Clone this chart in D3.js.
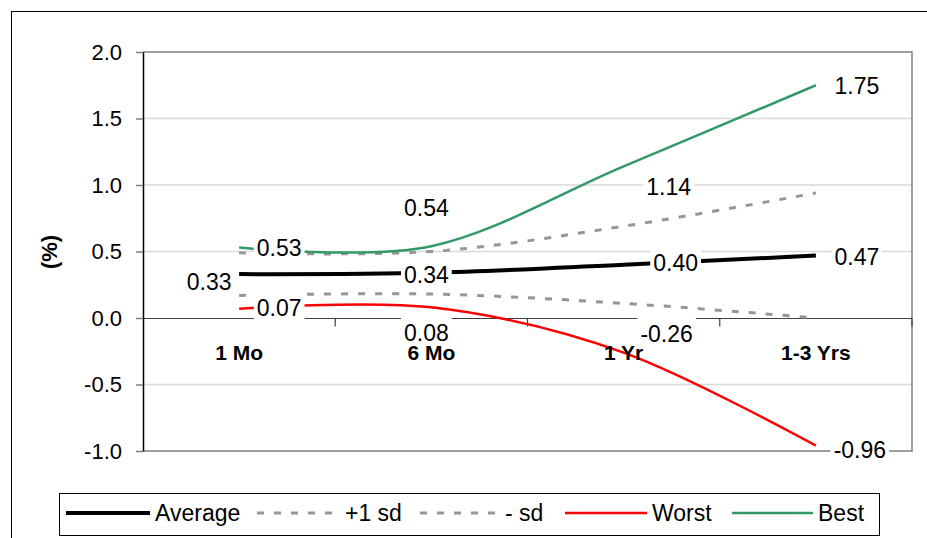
<!DOCTYPE html>
<html>
<head>
<meta charset="utf-8">
<script src="https://cdn.jsdelivr.net/npm/d3@7"></script>
<style>
  body { margin: 0; background: #fff; }
  svg { display: block; font-family: "Liberation Sans", Arial, sans-serif; }
</style>
</head>
<body>
<div id="app"></div>
<script>
// data
var categories = ["1 Mo", "6 Mo", "1 Yr", "1-3 Yrs"];
var average = [0.33, 0.34, 0.40, 0.47];
var plusSd = [0.49, 0.50, 0.69, 0.94];
var minusSd = [0.17, 0.18, 0.11, 0.00];
var worst = [0.07, 0.08, -0.26, -0.96];
var best = [0.53, 0.54, 1.14, 1.75];
var yTicks = [-1.0, -0.5, 0.0, 0.5, 1.0, 1.5, 2.0];
var seriesNames = ["Average", "+1 sd", "- sd", "Worst", "Best"];

var width = 927, height = 538;
var plot = {left: 143, right: 912, top: 52, bottom: 451};

var svg = d3.select("#app").append("svg")
  .attr("width", width)
  .attr("height", height);

// outer chart border
svg.append("rect")
  .attr("x", 11.5).attr("y", 11.5)
  .attr("width", 940).attr("height", 600)
  .attr("fill", "white").attr("stroke", "black");

var x = d3.scaleBand()
  .domain(categories)
  .range([plot.left, plot.right]);
var cx = function(c) { return x(c) + x.bandwidth() / 2; };

var y = d3.scaleLinear()
  .domain([-1, 2])
  .range([plot.bottom, plot.top]);

// gridlines
svg.append("g").selectAll("line")
  .data(yTicks.filter(function(d) { return d != 0 && d != -1 && d != 2; }))
  .join("line")
    .attr("x1", plot.left).attr("x2", plot.right)
    .attr("y1", function(d) { return y(d); })
    .attr("y2", function(d) { return y(d); })
    .attr("stroke", "#d9d9d9").attr("stroke-width", 1.5);

// plot border (top, right, bottom)
svg.append("path")
  .attr("d", "M" + plot.left + "," + y(2) + "H" + plot.right + "V" + y(-1) + "H" + plot.left)
  .attr("fill", "none").attr("stroke", "#808080").attr("stroke-width", 1.5);

// category axis at zero
var zeroY = Math.round(y(0)) + 0.5;
svg.append("line")
  .attr("x1", plot.left).attr("x2", plot.right)
  .attr("y1", zeroY).attr("y2", zeroY)
  .attr("stroke", "#404040").attr("stroke-width", 1.2);
var bounds = d3.range(categories.length + 1).map(function(i) { return plot.left + i * x.step(); });
svg.append("g").selectAll("line")
  .data(bounds.slice(1))
  .join("line")
    .attr("x1", function(d) { return d; }).attr("x2", function(d) { return d; })
    .attr("y1", zeroY).attr("y2", zeroY + 8)
    .attr("stroke", "#404040").attr("stroke-width", 1.2);

// value axis
var yAxis = svg.append("g")
  .attr("transform", "translate(" + plot.left + ",0)")
  .call(d3.axisLeft(y).tickValues(yTicks).tickSize(7).tickSizeOuter(0).tickPadding(14)
    .tickFormat(function(d) { return d.toFixed(1); }));
yAxis.select(".domain").attr("stroke", "black").attr("stroke-width", 1.5);
yAxis.selectAll(".tick line").attr("stroke", "#808080").attr("stroke-width", 1.5);
yAxis.selectAll(".tick text").attr("font-size", 22).attr("fill", "black")
  .attr("font-family", "Liberation Sans, Arial, sans-serif");

svg.append("text")
  .attr("transform", "translate(57,252) rotate(-90)")
  .attr("text-anchor", "middle")
  .attr("font-weight", "bold")
  .attr("font-size", 22)
  .text("(%)");

// series
var styles = {
  "Average": {color: "black", width: 4, dash: null},
  "+1 sd": {color: "#969696", width: 3, dash: "7,10"},
  "- sd": {color: "#969696", width: 3, dash: "7,10"},
  "Worst": {color: "#ff0000", width: 2.5, dash: null},
  "Best": {color: "#339966", width: 2.5, dash: null}
};
var seriesValues = [average, plusSd, minusSd, worst, best];

var line = d3.line()
  .x(function(d, i) { return cx(categories[i]); })
  .y(function(d) { return y(d); })
  .curve(d3.curveCardinal.tension(0));

// draw +1 sd / - sd underneath, then the others
[1, 2, 3, 4, 0].forEach(function(k) {
  var s = styles[seriesNames[k]];
  svg.append("path")
    .datum(seriesValues[k])
    .attr("d", line)
    .attr("fill", "none")
    .attr("stroke", s.color)
    .attr("stroke-width", s.width)
    .attr("stroke-dasharray", s.dash)
    .attr("stroke-linejoin", "round");
});

// data labels (offsets of label centre from the point)
var labelOffsets = {
  "Average": [[-30, 8], [-5, 2], [52, -2], [41, 1]],
  "Worst": [[40, -1], [-5, 25], [43, -19], [44, 4]],
  "Best": [[40, 0], [-5, -38], [45, 20], [41, 0]]
};
var labelData = [];
[0, 3, 4].forEach(function(k) {
  var name = seriesNames[k];
  seriesValues[k].forEach(function(v, i) {
    labelData.push({
      x: cx(categories[i]) + labelOffsets[name][i][0],
      y: y(v) + labelOffsets[name][i][1],
      text: v.toFixed(2)
    });
  });
});

var labels = svg.append("g").selectAll("g")
  .data(labelData)
  .join("g")
    .attr("transform", function(d) { return "translate(" + d.x + "," + d.y + ")"; });
labels.append("rect").attr("fill", "white");
labels.append("text")
  .attr("text-anchor", "middle")
  .attr("dy", "0.36em")
  .attr("font-size", 23)
  .text(function(d) { return d.text; });
labels.each(function() {
  var g = d3.select(this);
  var w = g.select("text").node().getComputedTextLength();
  g.select("rect")
    .attr("x", -w / 2 - 3).attr("y", -17)
    .attr("width", w + 6).attr("height", 34);
});

// category labels on top
svg.append("g").selectAll("text")
  .data(categories)
  .join("text")
    .attr("x", cx)
    .attr("y", 360)
    .attr("text-anchor", "middle")
    .attr("font-weight", "bold")
    .attr("font-size", 21)
    .text(function(d) { return d; });

// legend
var legend = svg.append("g");
legend.append("rect")
  .attr("x", 59.5).attr("y", 493.5)
  .attr("width", 820).attr("height", 42)
  .attr("fill", "white").attr("stroke", "black");
var legendX = [[66, 150], [257, 340], [420, 500], [565, 647], [732, 813]];
var legendY = 513;
var items = legend.selectAll("g")
  .data(seriesNames)
  .join("g");
items.append("line")
  .attr("x1", function(d, i) { return legendX[i][0]; })
  .attr("x2", function(d, i) { return legendX[i][1]; })
  .attr("y1", legendY).attr("y2", legendY)
  .attr("stroke", function(d) { return styles[d].color; })
  .attr("stroke-width", function(d) { return styles[d].width; })
  .attr("stroke-dasharray", function(d) { return styles[d].dash; });
items.append("text")
  .attr("x", function(d, i) { return legendX[i][1] + 5; })
  .attr("y", legendY)
  .attr("dy", "0.36em")
  .attr("font-size", 23)
  .text(function(d) { return d; });
</script>
</body>
</html>
